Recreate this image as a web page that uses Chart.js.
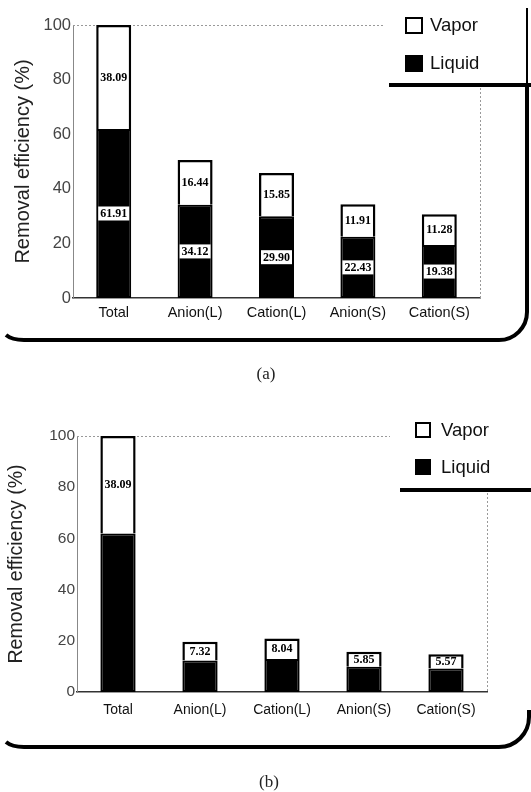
<!DOCTYPE html>
<html><head><meta charset="utf-8">
<script src="https://cdn.jsdelivr.net/npm/chart.js@4.4.0/dist/chart.umd.min.js"></script>
<style>
html,body{margin:0;padding:0;background:#fff;}
#wrap{position:relative;width:531px;height:792px;overflow:hidden;background:#fff;}
canvas{position:absolute;left:0;}
.leg{position:absolute;font-family:"Liberation Sans",Arial,sans-serif;font-size:18.5px;color:#111;line-height:20px;white-space:nowrap;}
.leg .sw{position:absolute;left:0;box-sizing:border-box;border:2px solid #000;}
.leg .tx{position:absolute;}
.cap{position:absolute;font-family:"Liberation Serif","Times New Roman",serif;font-size:17px;color:#222;width:60px;text-align:center;}
</style></head><body>
<div id="wrap">
  <canvas id="ca" width="531" height="380" style="top:0"></canvas>
  <canvas id="cb" width="531" height="412" style="top:380px"></canvas>
  <div class="cap" style="left:236px;top:364px">(a)</div>
  <div class="cap" style="left:239px;top:772px">(b)</div>
</div>
<script>
// ---------- data ----------
const categories = ['Total', 'Anion(L)', 'Cation(L)', 'Anion(S)', 'Cation(S)'];
const seriesNames = ['Liquid', 'Vapor'];
const liquidA = [61.91, 34.12, 29.90, 22.43, 19.38];
const vaporA  = [38.09, 16.44, 15.85, 11.91, 11.28];
const liquidB = [61.91, 12.3, 12.9, 9.9, 9.2];
const vaporB  = [38.09, 7.32, 8.04, 5.85, 5.57];
const yTicks  = [0, 20, 40, 60, 80, 100];
const yTitle  = 'Removal efficiency (%)';

// ---------- plugins ----------
const valueLabels = {
  id: 'valueLabels',
  afterDatasetsDraw(chart, args, opts) {
    const ctx = chart.ctx;
    ctx.save();
    ctx.font = 'bold ' + opts.size + 'px "Liberation Serif","Times New Roman",serif';
    ctx.textAlign = 'center';
    ctx.textBaseline = 'middle';
    chart.data.datasets.forEach((ds, di) => {
      if (!ds.showLabels) return;
      const meta = chart.getDatasetMeta(di);
      meta.data.forEach((el, i) => {
        const v = ds.data[i];
        const {x, y, base} = el.getProps(['x', 'y', 'base'], true);
        const cy = (y + base) / 2;
        const t = v.toFixed(2);
        const w = ctx.measureText(t).width;
        if (ds.labelBox) {
          ctx.fillStyle = '#fff';
          ctx.fillRect(x - w / 2 - 2, cy - 7, w + 4, 14);
        }
        ctx.fillStyle = '#000';
        ctx.fillText(t, x, cy + 0.5);
      });
    });
    ctx.restore();
  }
};

const frame = {
  id: 'frame',
  beforeDatasetsDraw(chart, args, o) {
    const ctx = chart.ctx, a = chart.chartArea;
    ctx.save();
    // dotted plot border (top, right)
    ctx.strokeStyle = '#999';
    ctx.lineWidth = 1;
    ctx.setLineDash([2, 2]);
    ctx.beginPath();
    ctx.moveTo(a.left, a.top + 0.5); ctx.lineTo(o.topEnd, a.top + 0.5);
    ctx.moveTo(a.right + 0.5, o.rightStart); ctx.lineTo(a.right + 0.5, a.bottom);
    ctx.stroke();
    ctx.restore();
  },
  afterDraw(chart, args, o) {
    const ctx = chart.ctx;
    ctx.save();
    // legend underline
    ctx.strokeStyle = '#000';
    ctx.lineWidth = 4;
    ctx.beginPath();
    ctx.moveTo(o.ulX, o.ulY); ctx.lineTo(531, o.ulY);
    ctx.stroke();
    // rounded bracket frame
    ctx.lineWidth = o.fw;
    ctx.beginPath();
    ctx.moveTo(o.rx, o.rTop);
    ctx.lineTo(o.rx, o.by - o.r);
    ctx.arcTo(o.rx, o.by, o.rx - o.r, o.by, o.r);
    ctx.lineTo(24, o.by);
    ctx.quadraticCurveTo(12, o.by, 6, o.by - 5);
    ctx.stroke();
    if (o.rTopLine) {
      ctx.lineWidth = 2;
      ctx.beginPath();
      ctx.moveTo(o.rx, o.rTopLine); ctx.lineTo(o.rx, o.ulY);
      ctx.stroke();
    }
    ctx.restore();
  }
};

function makeChart(id, liquid, vapor, g) {
  const chart = new Chart(document.getElementById(id), {
    type: 'bar',
    data: {
      labels: categories,
      datasets: [
        { label: seriesNames[0], data: liquid, backgroundColor: '#000', borderColor: '#000',
          borderWidth: 2, borderSkipped: false, showLabels: g.liquidLabels, labelBox: true },
        { label: seriesNames[1], data: vapor, backgroundColor: '#fff', borderColor: '#000',
          borderWidth: 2.5, borderSkipped: 'start', showLabels: true, labelBox: false }
      ]
    },
    options: {
      responsive: false,
      animation: false,
      devicePixelRatio: 1,
      layout: { padding: { left: 0, top: g.top, right: g.right, bottom: g.bottom } },
      datasets: { bar: { categoryPercentage: 1, barPercentage: 0.43 } },
      plugins: {
        legend: { display: false },
        tooltip: { enabled: false },
        valueLabels: { size: 12 },
        frame: g.frame
      },
      scales: {
        x: {
          stacked: true,
          grid: { display: false, drawTicks: false },
          border: { display: true, color: '#333', width: 1.5 },
          ticks: { color: '#111', padding: g.xPad, font: { family: '"Liberation Sans", Arial, sans-serif', size: g.xFont } },
          afterFit: s => { s.height = 40; }
        },
        y: {
          stacked: true,
          min: 0, max: 100,
          afterBuildTicks: s => { s.ticks = yTicks.map(v => ({ value: v })); },
          grid: { display: false, drawTicks: false },
          border: { display: true, color: '#888', width: 1 },
          ticks: { color: '#444', padding: 2, font: { family: '"Liberation Sans", Arial, sans-serif', size: g.yFont } },
          title: { display: true, text: yTitle, color: '#222', padding: { top: g.titlePad, bottom: 0 },
                   font: { family: '"Liberation Sans", Arial, sans-serif', size: g.titleFont } },
          afterFit: s => { s.width = g.left; }
        }
      }
    },
    plugins: [valueLabels, frame]
  });
  return chart;
}

const chartA = makeChart('ca', liquidA, vaporA, {
  top: 25, right: 51, bottom: 42, left: 73, xPad: 6, xFont: 14.5, yFont: 16.5, titleFont: 20, titlePad: 11,
  liquidLabels: true,
  frame: { topEnd: 385, rightStart: 88, ulX: 389, ulY: 85, rx: 527, rTop: 85, rTopLine: 8, by: 340, r: 28, fw: 4 }
});
const chartB = makeChart('cb', liquidB, vaporB, {
  top: 56, right: 44, bottom: 60, left: 77, xPad: 10, xFont: 14, yFont: 15.5, titleFont: 19.5, titlePad: 5,
  liquidLabels: false,
  frame: { topEnd: 390, rightStart: 113, ulX: 400, ulY: 110, rx: 529, rTop: 330, rTopLine: 0, by: 367, r: 30, fw: 4 }
});

// ---------- HTML legends built from the datasets ----------
function addLegend(chart, g) {
  const wrap = document.getElementById('wrap');
  const items = chart.data.datasets.slice().reverse();
  items.forEach((ds, i) => {
    const d = document.createElement('div');
    d.className = 'leg';
    d.style.left = g.x + 'px';
    d.style.top = (g.y + i * g.dy) + 'px';
    const sw = document.createElement('span');
    sw.className = 'sw';
    sw.style.width = g.bw + 'px'; sw.style.height = g.bh + 'px';
    sw.style.top = (10 - g.bh / 2) + 'px';
    sw.style.background = ds.backgroundColor;
    const tx = document.createElement('span');
    tx.className = 'tx';
    tx.style.left = g.tx + 'px';
    tx.style.top = '0px';
    tx.textContent = ds.label;
    d.appendChild(sw); d.appendChild(tx);
    wrap.appendChild(d);
  });
}
addLegend(chartA, { x: 405, y: 15, dy: 38, bw: 18, bh: 17, tx: 25 });
addLegend(chartB, { x: 415, y: 420, dy: 37, bw: 16, bh: 16, tx: 26 });
</script>
</body></html>
